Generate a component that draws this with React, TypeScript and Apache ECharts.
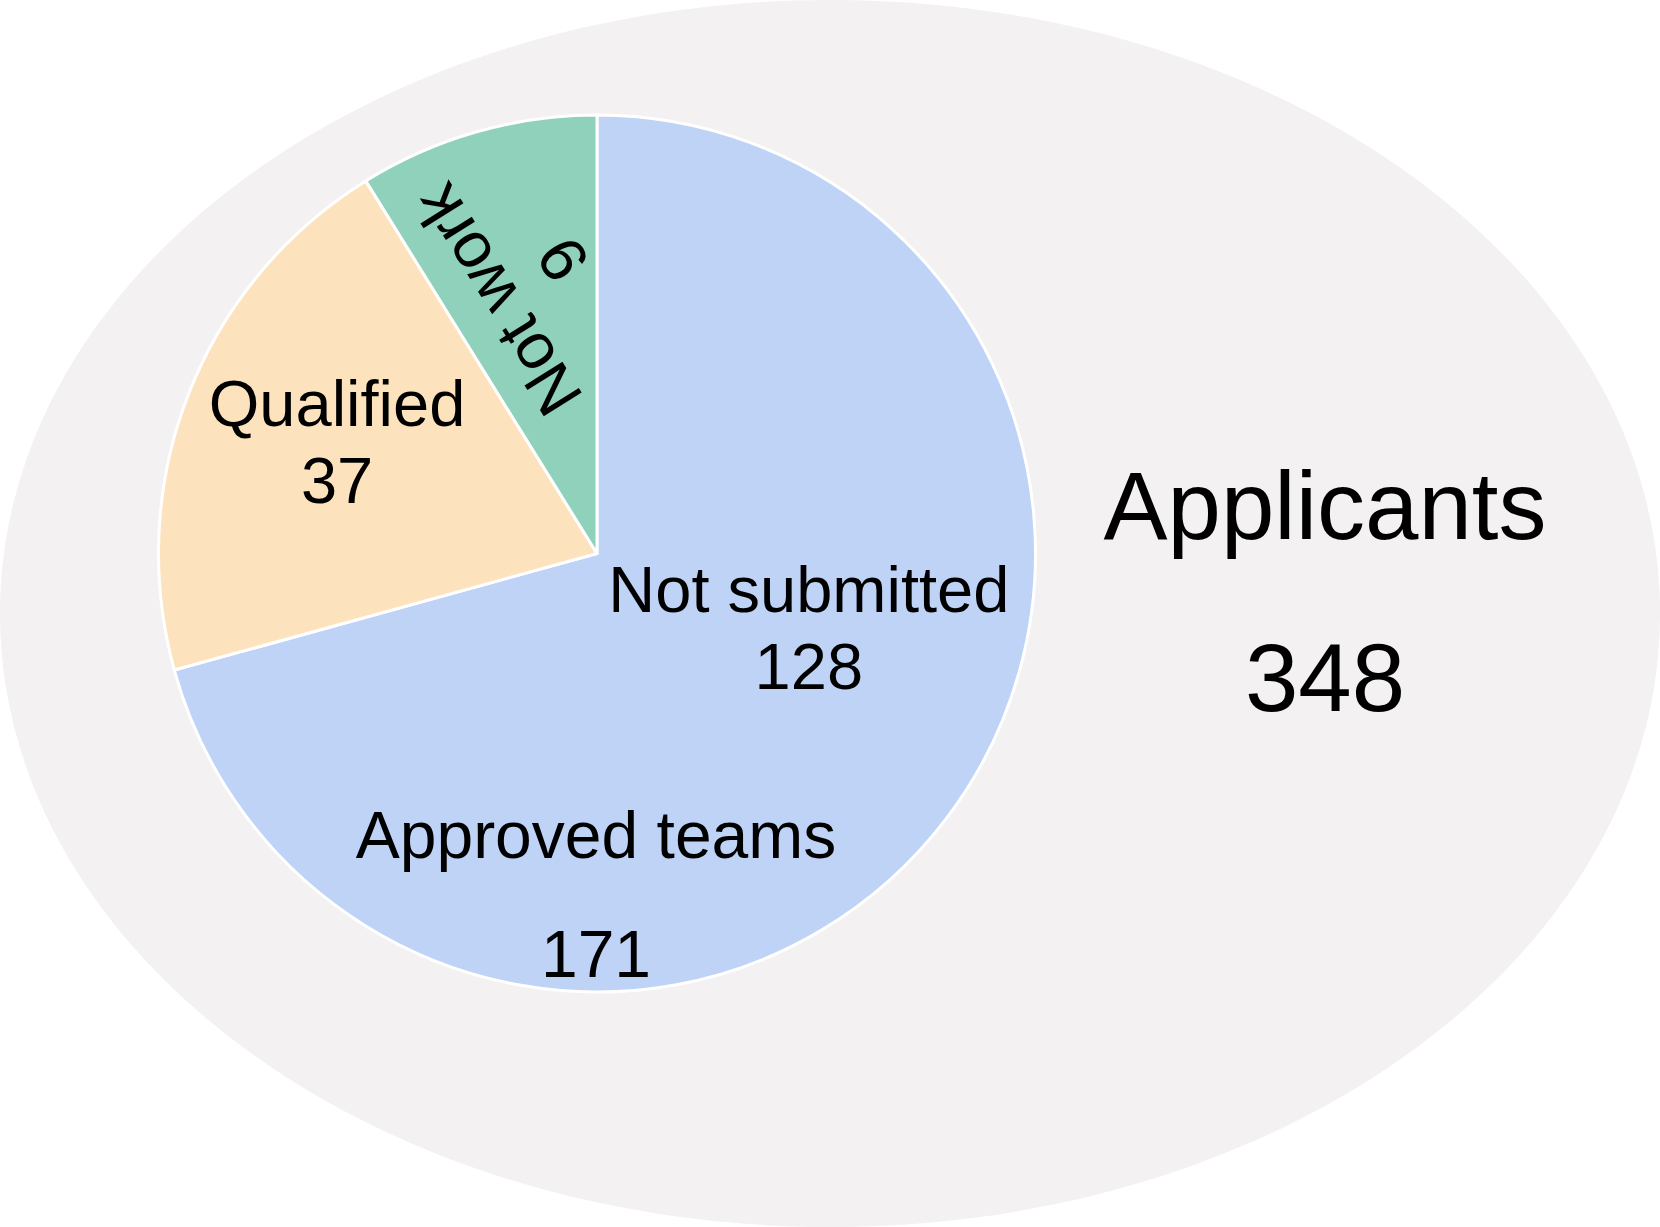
import React, { useEffect, useRef } from "react";
import * as echarts from "echarts";

// ---- data ----
const categories = ["Not submitted", "Qualified", "Not work"];
// numbers printed in the slices
const counts = [128, 37, 9];
// slice sizes as drawn in the picture (angles)
const sliceSizes = [128, 37, 16];
const sliceColors = ["#bed3f6", "#fde3bd", "#8fd1bb"];

const innerTitle = "Approved teams";
const innerTotal = 171;
const outerTitle = "Applicants";
const outerTotal = 348;

const W = 1660;
const H = 1227;
const FONT = "'Liberation Sans', Arial, Helvetica, sans-serif";

// label placement tweaks on screen (relative to the default 'inside' anchor)
const labelShift = [
  [35, -60],
  [-53, -30],
  [-6, -60],
];
const labelRotate = [0, 0, 122];

export default function App() {
  const ref = useRef<HTMLDivElement>(null);

  useEffect(() => {
    if (!ref.current) return;
    const chart = echarts.init(ref.current, undefined, { renderer: "svg" });

    const data = categories.map((name, i) => ({
      name,
      value: sliceSizes[i],
      itemStyle: { color: sliceColors[i] },
      label: labelRotate[i] ? { rotate: labelRotate[i] } : {},
    }));

    const titleText = (x: number, y: number, text: string, size: number) => ({
      type: "text",
      z: 20,
      x,
      y,
      style: {
        text,
        fontFamily: FONT,
        fontSize: size,
        fill: "#000",
        align: "center",
        verticalAlign: "middle",
      },
    });

    chart.setOption({
      animation: false,
      backgroundColor: "#ffffff",
      graphic: [
        {
          type: "ellipse",
          z: 0,
          shape: { cx: W / 2, cy: H / 2, rx: W / 2, ry: H / 2 },
          style: { fill: "#f3f1f2" },
        },
        titleText(596, 835, innerTitle, 66),
        titleText(596, 954, String(innerTotal), 66),
        titleText(1325, 505, outerTitle, 96),
        titleText(1325, 677, String(outerTotal), 96),
      ],
      series: [
        {
          type: "pie",
          z: 5,
          center: [597, 553.5],
          radius: 438.5,
          startAngle: 90,
          clockwise: true,
          avoidLabelOverlap: false,
          itemStyle: { borderColor: "#ffffff", borderWidth: 3 },
          label: {
            show: true,
            position: "inside",
            formatter: (p: any) => `${p.name}\n${counts[p.dataIndex]}`,
            fontFamily: FONT,
            fontSize: 65,
            lineHeight: 77,
            color: "#000",
            align: "center",
          },
          labelLine: { show: false },
          labelLayout: (p: any) => {
            const i = p.dataIndex;
            const [sx, sy] = labelShift[i];
            const a = (labelRotate[i] * Math.PI) / 180;
            // shift is applied in the label's rotated frame: convert
            const c = Math.cos(a);
            const s = Math.sin(a);
            return { dx: c * sx - s * sy, dy: s * sx + c * sy };
          },
          emphasis: { disabled: true },
          data,
        },
      ],
    });

    return () => chart.dispose();
  }, []);

  return (
    <div
      ref={ref}
      style={{ position: "absolute", left: 0, top: 0, width: W, height: H }}
    />
  );
}
